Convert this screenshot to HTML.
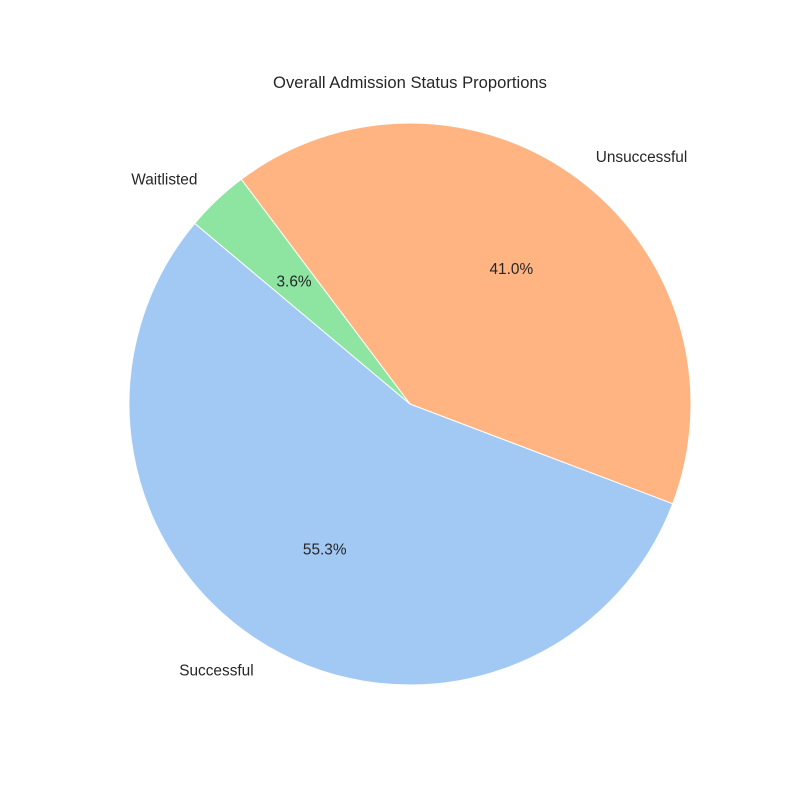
<!DOCTYPE html>
<html><head><meta charset="utf-8"><style>
body{margin:0;background:#fff;}
svg text{font-family:"Liberation Sans","DejaVu Sans",sans-serif;fill:#262626;font-size:15.4px;}
</style></head><body>
<svg id="chart" width="800" height="800" viewBox="0 0 800 800">
<rect width="800" height="800" fill="#fff"/>
<text x="410" y="88" text-anchor="middle" style="font-size:16.6px">Overall Admission Status Proportions</text>
<g id="slices"></g>
</svg>
<script>
const categories = ["Successful", "Unsuccessful", "Waitlisted"];
const values = [55.34, 41.02, 3.64];
const colors = ["#a1c9f4", "#ffb482", "#8de5a1"];
const startAngle = 140;
const cx = 410, cy = 404, r = 281;
const ns = "http://www.w3.org/2000/svg";
const g = document.getElementById("slices");
const total = values.reduce((a, b) => a + b, 0);
function pt(deg, rad) { const a = deg * Math.PI / 180; return [cx + rad * Math.cos(a), cy - rad * Math.sin(a)]; }
let a0 = startAngle;
values.forEach((v, i) => {
  const sweep = v / total * 360, a1 = a0 + sweep;
  const p0 = pt(a0, r), p1 = pt(a1, r);
  const path = document.createElementNS(ns, "path");
  path.setAttribute("d", `M${cx},${cy} L${p0[0]},${p0[1]} A${r},${r} 0 ${sweep > 180 ? 1 : 0} 0 ${p1[0]},${p1[1]} Z`);
  path.setAttribute("fill", colors[i]);
  path.setAttribute("stroke", "#fff");
  path.setAttribute("stroke-width", "1");
  
  
  g.appendChild(path);
  const mid = (a0 + a1) / 2;
  const lp = pt(mid, r * 1.1);
  const lab = document.createElementNS(ns, "text");
  lab.setAttribute("x", lp[0]); lab.setAttribute("y", lp[1] + 5);
  lab.setAttribute("text-anchor", Math.cos(mid * Math.PI / 180) >= 0 ? "start" : "end");
  lab.textContent = categories[i];
  
  
  g.appendChild(lab);
  const pp = pt(mid, r * 0.6);
  const pct = document.createElementNS(ns, "text");
  pct.setAttribute("x", pp[0]); pct.setAttribute("y", pp[1] + 5);
  pct.setAttribute("text-anchor", "middle");
  pct.textContent = (v / total * 100).toFixed(1) + "%";
  
  
  g.appendChild(pct);
  a0 = a1;
});
</script>
</body></html>
